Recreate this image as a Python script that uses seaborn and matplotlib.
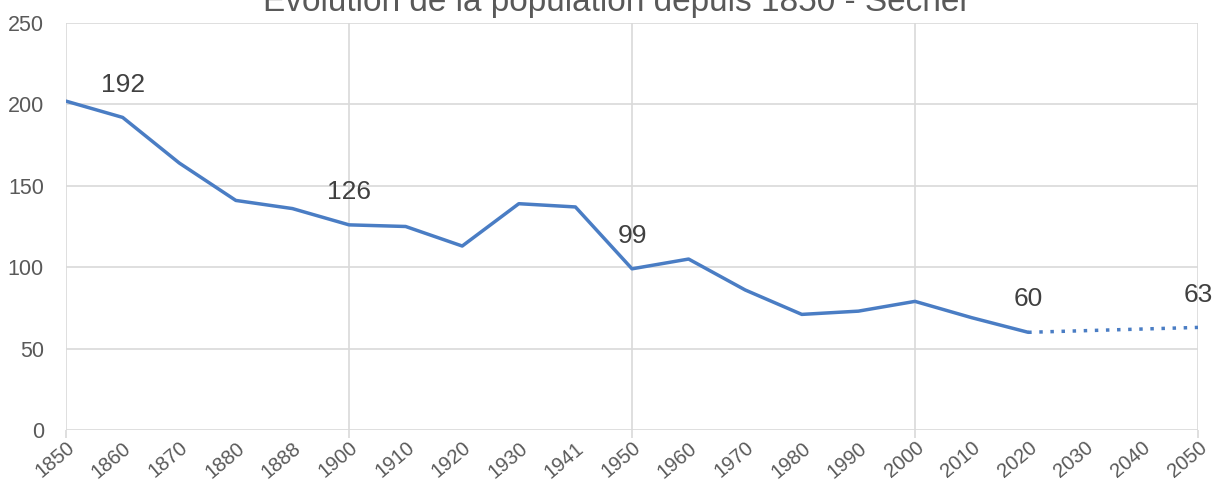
import matplotlib
matplotlib.use("Agg")
import matplotlib.pyplot as plt
import seaborn as sns
import pandas as pd
from matplotlib.ticker import FixedLocator

# ----------------------------
# DONNÉES
# ----------------------------
annees = ['1850', '1860', '1870', '1880', '1888', '1900', '1910', '1920', '1930', '1941',
          '1950', '1960', '1970', '1980', '1990', '2000', '2010', '2020']
population = [202, 192, 164, 141, 136, 126, 125, 113, 139, 137,
              99, 105, 86, 71, 73, 79, 69, 60]

annees_proj = ['2020', '2030', '2040', '2050']
population_proj = [60, 61, 62, 63]

etiquettes = {'1860': 192, '1900': 126, '1950': 99, '2020': 60, '2050': 63}

titre = "Évolution de la population depuis 1850 - Sécher"

# ----------------------------
# MISE EN FORME
# ----------------------------
toutes_annees = annees + annees_proj[1:]
pos = {a: i for i, a in enumerate(toutes_annees)}

df = pd.DataFrame({'x': [pos[a] for a in annees], 'pop': population})
df_proj = pd.DataFrame({'x': [pos[a] for a in annees_proj], 'pop': population_proj})

sns.set_style("white")
plt.rcParams['font.family'] = ['Liberation Sans', 'DejaVu Sans']

bleu = '#4a7dc4'
gris = '#595959'
grille = '#d9d9d9'

fig, ax = plt.subplots(figsize=(12.14, 4.84), dpi=100)
fig.subplots_adjust(left=0.0544, right=0.9868, top=0.9525, bottom=0.1116)

sns.lineplot(data=df, x='x', y='pop', ax=ax, color=bleu, linewidth=2.5)
sns.lineplot(data=df_proj, x='x', y='pop', ax=ax, color=bleu, linewidth=2.5,
             linestyle=(0, (1, 2.2)))

for annee, val in etiquettes.items():
    ax.annotate(str(val), (pos[annee], val), xytext=(0, 15), textcoords='offset points',
                ha='center', va='bottom', fontsize=19, color='#404040')

ax.set_xlim(0, len(toutes_annees) - 1)
ax.set_ylim(0, 250)
ax.set_yticks(range(0, 251, 50))
ax.yaxis.grid(True, color=grille, linewidth=1.2)

ax.xaxis.set_major_locator(FixedLocator(list(range(len(toutes_annees)))))
ax.set_xticklabels(toutes_annees, rotation=40, ha='right', rotation_mode='anchor')
ax.xaxis.set_minor_locator(FixedLocator([0, 5, 10, 15, 20]))
ax.xaxis.remove_overlapping_locs = False
ax.tick_params(axis='x', which='major', length=0, pad=6, labelsize=14.5, labelcolor=gris)
ax.tick_params(axis='x', which='minor', length=6, width=1.2, color=grille, bottom=True)
ax.tick_params(axis='y', length=0, pad=16, labelsize=15.5, labelcolor=gris)
for xv in [0, 5, 10, 15, 20]:
    ax.axvline(xv, color=grille, linewidth=1.2, zorder=0)

for s in ax.spines.values():
    s.set_visible(False)

ax.set_xlabel('')
ax.set_ylabel('')

fig.text(0.508, 1.0, titre, ha='center', va='center', fontsize=24, color=gris)

plt.savefig('out.png', dpi=100)
